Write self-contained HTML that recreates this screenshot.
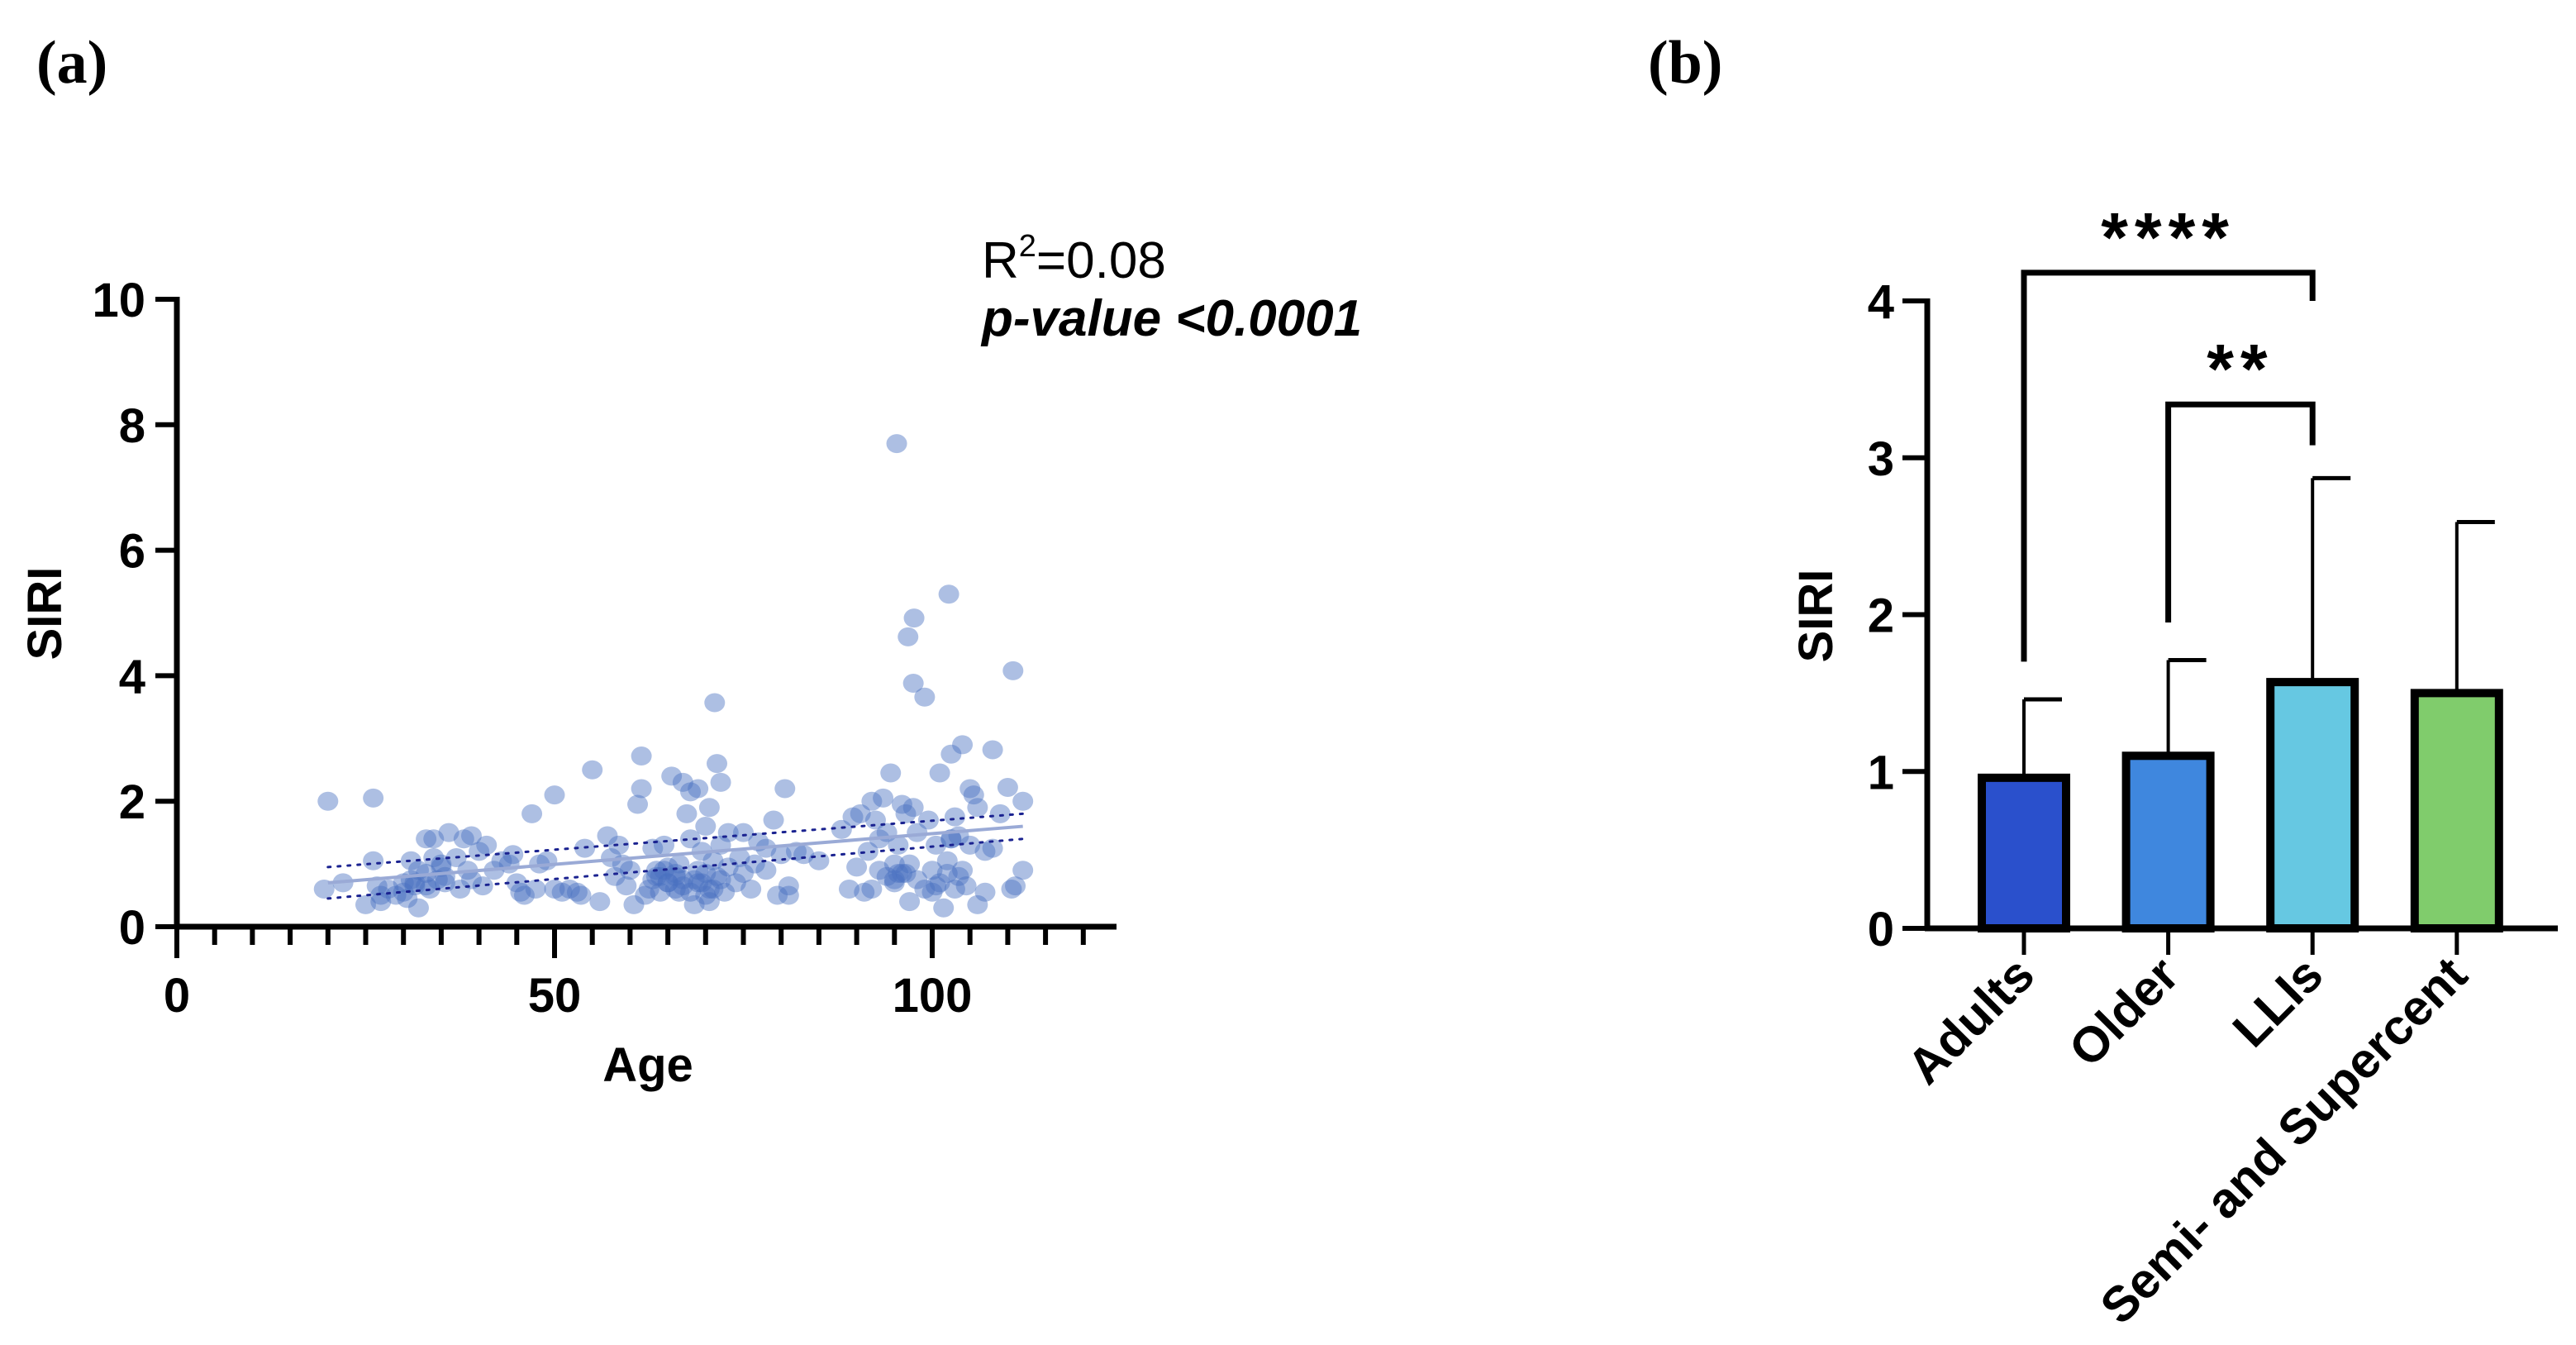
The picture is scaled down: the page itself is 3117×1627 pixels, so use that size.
<!DOCTYPE html>
<html><head><meta charset="utf-8"><style>
html,body{margin:0;padding:0;background:#fff;}
svg{display:block;}
</style></head><body>
<svg id="fig" width="3117" height="1627" viewBox="0 0 3117 1627" xmlns="http://www.w3.org/2000/svg" font-family="Liberation Sans, Arial, sans-serif">
<text x="44" y="100" style="font-family:'Liberation Serif',serif;font-weight:bold;font-size:74px">(a)</text>
<text x="1994" y="100" style="font-family:'Liberation Serif',serif;font-weight:bold;font-size:74px">(b)</text>
<g id="chartA"></g>
<g id="chartB"></g>
</svg>
<script>
// ---------- Panel (a) data ----------
const xTicksA = [0, 50, 100];
const yTicksA = [0, 2, 4, 6, 8, 10];
const ages = [20,19.5,22,25,26,26,26.5,27,27,28,29,30,30,30.5,31,31,31.5,32,32,33,33,33.5,34,34,34.5,35,35,35.5,36,37,37.5,38,38.5,39,39,40,40.5,41,42,43,44,44.5,45,45.5,46,47,47.5,48,49,50,50,51,52,53,53.5,54,55,56,57,57.5,58,58.5,59,59.5,60,60.5,61,61.5,61.5,62,62.5,63,63,63.5,64,64,64.5,65,65,65.5,66,66,66.5,67,67,67.5,68,68,68,68.5,69,69,69.5,69.5,70,70,70,70.5,70.5,71,71,71.2,71.5,72,72,72,72.5,73,73,74,74.5,75,75,76,76.5,77,78,78,79,79.5,80,80.5,81,81,82,83,85,88,89,89.5,90,90.5,91,91.5,92,92,92.5,93,93,93.5,94,94,94.5,95,95,95.3,95.5,95.5,96,96,96.5,96.8,97,97,97.6,97.5,97.5,98,98,99,99,99.5,100,100,100.5,101,101,101.5,102,102,102.2,102.5,102.5,103,103,103.5,104,104,104.5,105,105,105.5,106,106,107,107,108,108,109,110,110.5,110.7,111,112,112,65,66,67,64.5,68.5,70.5,71.5,69,66.5,63.5,96.5,95,100.5,103.5,102.5,33,31.5,35.5];
const siri = [2.0,0.6,0.7,0.35,2.05,1.05,0.65,0.5,0.4,0.6,0.5,0.7,0.55,0.45,1.05,0.75,0.65,0.9,0.3,1.4,0.85,0.6,1.1,1.4,0.75,0.95,1.0,0.7,1.5,1.1,0.6,1.4,0.9,1.45,0.75,1.2,0.65,1.3,0.9,1.05,1.0,1.15,0.7,0.55,0.5,1.8,0.6,1.0,1.05,2.1,0.6,0.55,0.6,0.55,0.5,1.25,2.5,0.4,1.45,1.1,0.8,1.3,1.0,0.65,0.9,0.35,1.95,2.72,2.2,0.5,0.6,1.25,0.75,0.9,0.55,0.8,1.3,0.7,0.95,2.4,0.85,0.6,1.0,2.3,0.75,1.8,2.15,1.4,0.55,0.35,2.2,0.9,1.2,0.7,0.5,0.85,1.6,1.9,0.4,1.05,0.6,3.57,2.6,2.3,1.3,0.75,0.55,1.5,0.95,0.7,1.1,1.5,0.85,0.6,1.0,1.35,1.25,0.9,1.7,0.5,1.15,2.2,0.65,0.5,1.2,1.15,1.05,1.55,0.6,1.75,0.95,1.8,0.55,1.2,0.6,2.0,1.7,1.4,0.9,2.05,1.5,0.8,2.45,1.0,0.7,7.7,0.85,1.3,1.95,0.85,1.8,4.62,0.4,1.0,4.92,3.88,1.9,0.75,1.5,3.66,0.6,1.7,0.9,0.55,1.3,2.45,0.7,0.3,0.85,1.05,5.3,2.75,1.4,1.75,0.6,1.45,2.9,0.9,0.65,2.2,1.3,2.1,0.35,1.9,1.2,0.55,2.82,1.25,1.8,2.22,0.6,4.08,0.65,2.0,0.9,0.7,0.8,0.65,0.9,0.75,0.6,0.8,0.7,0.55,0.8,0.85,0.75,0.65,0.8,1.4,0.65,0.7,0.8];
const fitAges = [20, 112];
const fitMid = [0.7, 1.6];
const fitLow = [0.45, 1.4];
const fitHigh = [0.95, 1.8];

// ---------- Panel (b) data ----------
const groups = ["Adults", "Older", "LLIs", "Semi- and Supercent"];
const means = [0.96, 1.1, 1.57, 1.5];
const sdTop = [1.46, 1.71, 2.87, 2.59];
const yTicksB = [0, 1, 2, 3, 4];
const barColors = ["#2a50cc", "#3f87de", "#66c8e2", "#80cc6c"];
const sigPairs = [[0, 2], [1, 2]];
const sigLabels = ["****", "**"];
const sigLeftY = [1.7, 1.95];
const sigTopY = [4.18, 3.34];
const sigRightY = [4.0, 3.08];

const NS = "http://www.w3.org/2000/svg";
function mk(parent, tag, attrs, txt) {
  const e = document.createElementNS(NS, tag);
  for (const k in attrs) e.setAttribute(k, attrs[k]);
  if (txt !== undefined) e.textContent = txt;
  parent.appendChild(e);
  return e;
}

// ---------- Panel (a) ----------
const A = document.getElementById("chartA");
const ax0 = 214, ax1 = 1351, ay0 = 1121, ay1 = 362;
const xA = v => ax0 + v * (1128 - ax0) / 100;
const yA = v => ay0 - v * (ay0 - ay1) / 10;

const dotsG = mk(A, "g", {});


for (let i = 0; i < ages.length; i++) {
  const c = mk(dotsG, "ellipse", {cx: xA(ages[i]), cy: yA(siri[i]), rx: 12.5, ry: 11.5, fill: "#4a72c0", "fill-opacity": 0.45});
  
  
}
const fl = mk(A, "line", {x1: xA(fitAges[0]), y1: yA(fitMid[0]), x2: xA(fitAges[1]), y2: yA(fitMid[1]), stroke: "#9aaad6", "stroke-width": 4});


[fitLow, fitHigh].forEach((arr, k) => {
  const l = mk(A, "line", {x1: xA(fitAges[0]), y1: yA(arr[0]), x2: xA(fitAges[1]), y2: yA(arr[1]), stroke: "#1a2290", "stroke-width": 3, "stroke-dasharray": "3 9", "stroke-linecap": "round"});
  
  
});
const yaxA = mk(A, "line", {x1: ax0, y1: ay1 - 3, x2: ax0, y2: ay0 + 3, stroke: "#000", "stroke-width": 7});


const xaxA = mk(A, "line", {x1: ax0 - 3, y1: ay0, x2: ax1, y2: ay0, stroke: "#000", "stroke-width": 7});


for (let v = 0; v <= 120; v += 5) {
  const major = xTicksA.indexOf(v) >= 0;
  const t = mk(A, "line", {x1: xA(v), y1: ay0, x2: xA(v), y2: ay0 + (major ? 38 : 22), stroke: "#000", "stroke-width": 6});
  
  
}
xTicksA.forEach(v => {
  const t = mk(A, "text", {x: xA(v), y: 1224, "text-anchor": "middle", "font-size": 58, "font-weight": "bold"}, String(v));
  
  
});
yTicksA.forEach(v => {
  const t = mk(A, "line", {x1: ax0 - 26, y1: yA(v), x2: ax0, y2: yA(v), stroke: "#000", "stroke-width": 6});
  
  
  const l = mk(A, "text", {x: 176, y: yA(v) + 21, "text-anchor": "end", "font-size": 58, "font-weight": "bold"}, String(v));
  
  
});
const xtA = mk(A, "text", {x: 784, y: 1308, "text-anchor": "middle", "font-size": 58, "font-weight": "bold"}, "Age");


const ytA = mk(A, "text", {x: 0, y: 0, "text-anchor": "middle", "font-size": 58, "font-weight": "bold", transform: "translate(74,742) rotate(-90)"}, "SIRI");


const r2 = mk(A, "text", {x: 1188, y: 336, "font-size": 62}, "");


mk(r2, "tspan", {}, "R");
mk(r2, "tspan", {dy: -26, "font-size": 38}, "2");
mk(r2, "tspan", {dy: 26}, "=0.08");
const pv = mk(A, "text", {x: 1188, y: 406, "font-size": 62, "font-weight": "bold", "font-style": "italic"}, "p-value <0.0001");



// ---------- Panel (b) ----------
const B = document.getElementById("chartB");
const bx0 = 2332, bx1 = 3095, by0 = 1123;
const yB = v => by0 - v * (by0 - 364) / 4;
const xB = i => 2449 + i * 174.6;
const bw = 102;

groups.forEach((g, i) => {
  const e1 = mk(B, "line", {x1: xB(i), y1: yB(means[i]), x2: xB(i), y2: yB(sdTop[i]), stroke: "#000", "stroke-width": 4});
  
  
  const e2 = mk(B, "line", {x1: xB(i), y1: yB(sdTop[i]), x2: xB(i) + 46, y2: yB(sdTop[i]), stroke: "#000", "stroke-width": 5});
  
  
  const r = mk(B, "rect", {x: xB(i) - bw / 2, y: yB(means[i]), width: bw, height: by0 - yB(means[i]), fill: barColors[i], stroke: "#000", "stroke-width": 10});
  
  
  const t = mk(B, "line", {x1: xB(i), y1: by0, x2: xB(i), y2: by0 + 32, stroke: "#000", "stroke-width": 5});
  
  
  const lx = xB(i) + 16, ly = by0 + 60;
  const l = mk(B, "text", {x: lx, y: ly, "text-anchor": "end", "font-size": 60, "font-weight": "bold", transform: "rotate(-45 " + lx + " " + ly + ")"}, g);
  
  
});
const yaxB = mk(B, "line", {x1: bx0, y1: yB(4) - 3, x2: bx0, y2: by0 + 3, stroke: "#000", "stroke-width": 7});


const xaxB = mk(B, "line", {x1: bx0 - 3, y1: by0, x2: bx1, y2: by0, stroke: "#000", "stroke-width": 7});


yTicksB.forEach(v => {
  const t = mk(B, "line", {x1: bx0 - 30, y1: yB(v), x2: bx0, y2: yB(v), stroke: "#000", "stroke-width": 6});
  
  
  const l = mk(B, "text", {x: 2292, y: yB(v) + 21, "text-anchor": "end", "font-size": 58, "font-weight": "bold"}, String(v));
  
  
});
const ytB = mk(B, "text", {x: 0, y: 0, "text-anchor": "middle", "font-size": 58, "font-weight": "bold", transform: "translate(2217,745) rotate(-90)"}, "SIRI");


sigPairs.forEach((p, k) => {
  const a = xB(p[0]), b = xB(p[1]);
  const br = mk(B, "polyline", {points: a + "," + yB(sigLeftY[k]) + " " + a + "," + yB(sigTopY[k]) + " " + b + "," + yB(sigTopY[k]) + " " + b + "," + yB(sigRightY[k]), fill: "none", stroke: "#000", "stroke-width": 7});
  
  
  const s = mk(B, "text", {x: (a + b) / 2, y: yB(sigTopY[k]) - 14, "text-anchor": "middle", "font-size": 84, "font-weight": "bold", "letter-spacing": 8}, sigLabels[k]);
  
  
});
</script>
</body></html>
